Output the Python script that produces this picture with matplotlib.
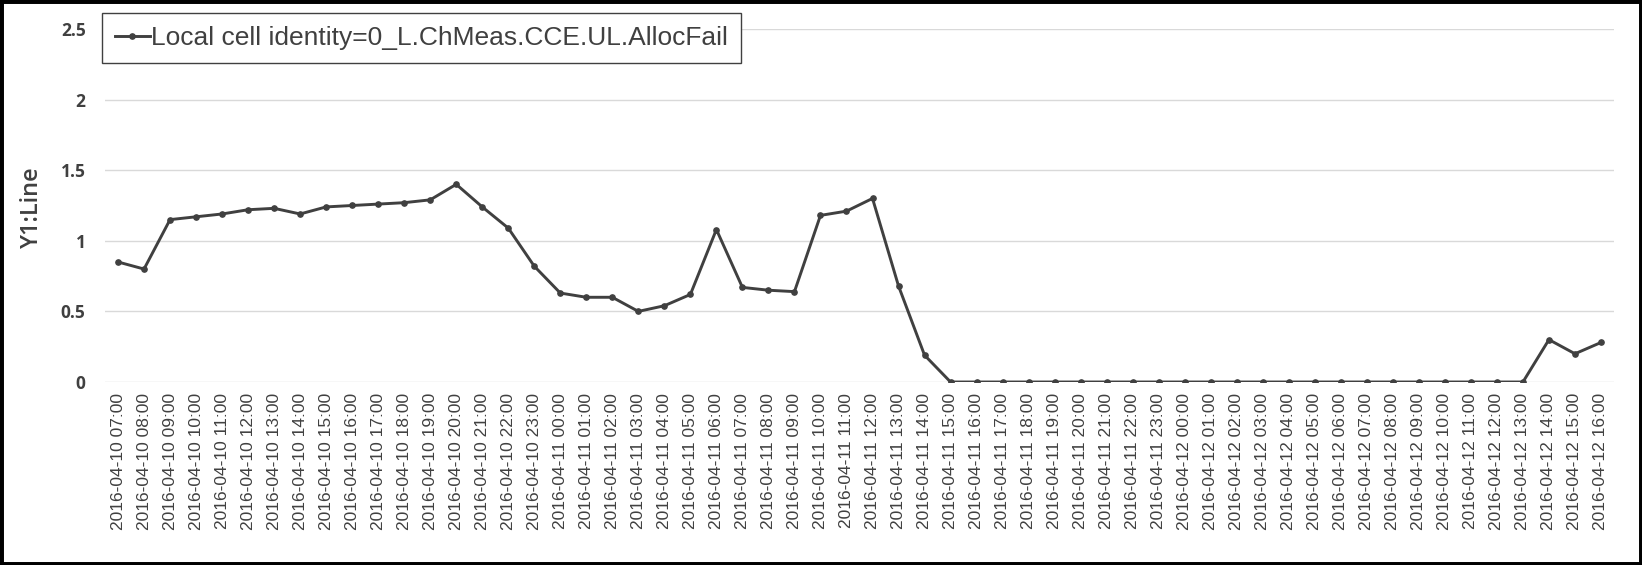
import matplotlib
matplotlib.use("Agg")
import matplotlib.pyplot as plt
from matplotlib.patches import Rectangle

# hourly timestamps, 2016-04-10 07:00 .. 2016-04-12 16:00
days = ["2016-04-10"] * 17 + ["2016-04-11"] * 24 + ["2016-04-12"] * 17
hours = list(range(7, 24)) + list(range(0, 24)) + list(range(0, 17))
labels = [f"{d} {h:02d}:00" for d, h in zip(days, hours)]

values = [0.85, 0.80, 1.15, 1.17, 1.19, 1.22, 1.23, 1.19, 1.24, 1.25, 1.26, 1.27, 1.29, 1.40, 1.24, 1.09, 0.82,
          0.63, 0.60, 0.60, 0.50, 0.54, 0.62, 1.08, 0.67, 0.65, 0.64, 1.18, 1.21, 1.30, 0.68, 0.19, 0, 0, 0, 0,
          0, 0, 0, 0, 0,
          0, 0, 0, 0, 0, 0, 0, 0, 0, 0, 0, 0, 0, 0, 0.30, 0.20, 0.28]
series_name = "Local cell identity=0_L.ChMeas.CCE.UL.AllocFail"
yticks = [0, 0.5, 1, 1.5, 2, 2.5]

fig = plt.figure(figsize=(16.42, 5.65), dpi=100)
ax = fig.add_axes([105 / 1642, 1 - 382 / 565, (1614 - 105) / 1642, (382 - 29) / 565])

x = list(range(len(values)))
ax.plot(x, values, color="#404040", lw=2.1, marker="o", ms=3.8, label=series_name)

ax.set_xlim(-0.5, len(values) - 0.5)
ax.set_ylim(0, 2.5)
ax.set_yticks(yticks)
ax.set_yticklabels(["0", "0.5", "1", "1.5", "2", "2.5"], fontfamily="Open Sans", fontweight="bold",
                   fontsize=12.5, color="#404040")
ax.set_xticks(x)
ax.set_xticklabels(labels, rotation=90, fontfamily="Liberation Sans", fontsize=12.5, color="#404040")
ax.tick_params(axis="both", length=0)
ax.tick_params(axis="y", pad=14)
ax.tick_params(axis="x", pad=8)
ax.grid(axis="y", color="#d9d9d9", lw=1)
ax.set_axisbelow(True)
for s in ax.spines.values():
    s.set_visible(False)

ax.set_ylabel("Y1:Line", fontfamily="Open Sans", fontweight="semibold", fontsize=17, color="#404040")
ax.yaxis.set_label_coords(44 / 1642, 1 - 207 / 565, transform=fig.transFigure)

leg = ax.legend(loc="upper left", bbox_to_anchor=(102 / 1642, 1 - 13 / 565), bbox_transform=fig.transFigure,
                borderaxespad=0, fancybox=False, edgecolor="#404040", framealpha=1,
                prop={"family": "Liberation Sans", "size": 19},
                handlelength=1.3, handletextpad=0.05, borderpad=0.5)
leg.get_frame().set_linewidth(1.0)
for t in leg.get_texts():
    t.set_color("#404040")

fig.patches.append(Rectangle((0, 0), 1, 1, transform=fig.transFigure, fill=False, edgecolor="black", lw=5))

fig.savefig("out.png", dpi=100)
